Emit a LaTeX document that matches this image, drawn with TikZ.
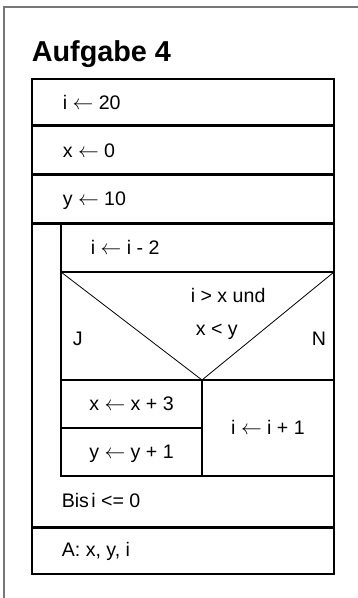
\documentclass[tikz,border=0pt]{standalone}
\usepackage{fontspec}
\setmainfont{Liberation Sans}
\usetikzlibrary{positioning}
\definecolor{framegray}{HTML}{777777}

\begin{document}
\begin{tikzpicture}[x=1pt, y=-1pt, line width=1.6pt,
    txt/.style={anchor=base west, inner sep=0pt, font=\fontsize{19.6}{22}\selectfont},
    ctxt/.style={anchor=base, inner sep=0pt, font=\fontsize{19.6}{22}\selectfont}]
  \useasboundingbox (0,0) rectangle (358,598);
  \draw[framegray, line width=1.2pt] (4,598) -- (4,7) -- (358,7);
  \node[anchor=base west, inner sep=0pt, font=\bfseries\fontsize{28.8}{32}\selectfont] (title) at (31,61.5) {Aufgabe 4};
  % Anweisungen
  \draw (32,79) rectangle (334,125);
  \node[txt] (seti) at (62,109) {i $\leftarrow$ 20};
  \draw (32,126.5) rectangle (334,174);
  \node[txt] (setx) at (62,157) {x $\leftarrow$ 0};
  \draw (32,175.5) rectangle (334,223);
  \node[txt] (sety) at (62,205.5) {y $\leftarrow$ 10};
  % Schleife
  \draw (32,224.5) rectangle (334,527);
  \draw (61,224.5) rectangle (334,272);
  \node[txt] (deci) at (90,254) {i $\leftarrow$ i - 2};
  \node[txt] (until) at (61,507) {Bis\hspace{0.12em}i <= 0};
  % Verzweigung
  \draw (61,272) rectangle (334,476);
  \draw[line width=0.8pt] (61,272) -- (202,380) -- (334,272);
  \draw (61,380) -- (334,380);
  \draw (202,380) -- (202,476);
  \draw (61,428) -- (202,428);
  \node[txt] (cond1) at (190,302.7) {i > x und};
  \node[txt] (cond2) at (195,335) {x < y};
  \node[txt] (yes) at (72,345) {J};
  \node[txt] (no) at (311,345) {N};
  \node[ctxt] (incx) at (131.5,410.5) {x $\leftarrow$ x + 3};
  \node[ctxt] (incy) at (131.5,458) {y $\leftarrow$ y + 1};
  \node[ctxt] (inci) at (268,434) {i $\leftarrow$ i + 1};
  % Ausgabe
  \draw (32,528.5) rectangle (334,574);
  \node[txt] (out) at (61,556) {A: x, y, i};
\end{tikzpicture}
\end{document}
